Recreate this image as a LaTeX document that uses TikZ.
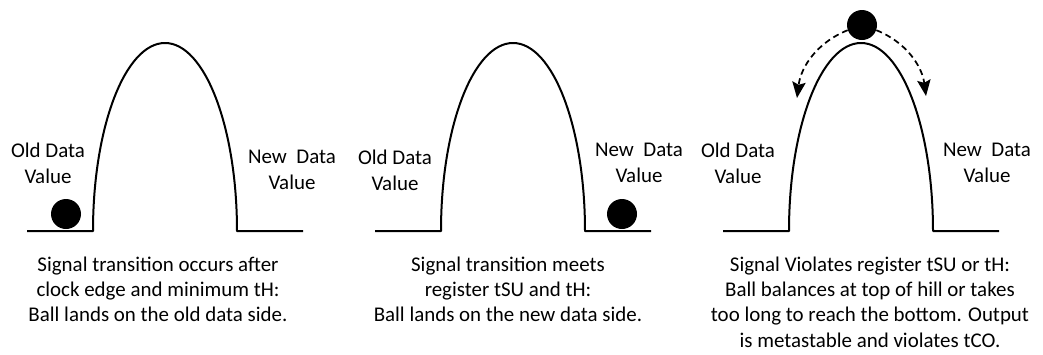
\documentclass[tikz,border=0pt]{standalone}
\usepackage{fontspec}
\setmainfont{Carlito}
\usetikzlibrary{arrows.meta}

\tikzset{
  hill/.style={line width=1.5pt,line join=round},
  ball/.style={circle,fill=black,inner sep=0pt,minimum size=22.5pt},
  side/.style={align=center,inner sep=0pt,font=\fontsize{15.7}{19.5}\selectfont},
  note/.style={align=center,inner sep=0pt,anchor=north,font=\fontsize{15.7}{18.8}\selectfont},
  swing/.style={line width=1.3pt,dash pattern=on 4.5pt off 3pt,-{Stealth[length=12pt,width=10pt,inset=2pt]}}
}

\begin{document}
\begin{tikzpicture}[x=0.75pt,y=-0.75pt]
  % Keep the frame of the original artwork.
  \useasboundingbox (0,0) rectangle (1043,354);

  % Three hills, each with a flat floor on both sides.
  \foreach \dx/\n in {0/1,348/2,696/3}{
    \coordinate (floorl\n) at (27+\dx,231);
    \coordinate (footl\n) at (93+\dx,231);
    \coordinate (footr\n) at (237+\dx,231);
    \coordinate (floorr\n) at (303+\dx,231);
    \draw[hill] (floorl\n) -- (footl\n)
      arc[start angle=180,end angle=360,x radius=72,y radius=188]
      -- (floorr\n);
  }

  % Side labels.
  \node[side] (old1) at (48,163) {Old Data\\Value};
  \node[side] (new1) at (292,170) {New\ \ Data\\Value};
  \node[side] (old2) at (395,170) {Old Data\\Value};
  \node[side] (new2) at (639,163) {New\ \ Data\\Value};
  \node[side] (old3) at (738,163) {Old Data\\Value};
  \node[side] (new3) at (987,163) {New\ \ Data\\Value};

  % Balls.
  \node[ball] (ball1) at (66,214) {};
  \node[ball] (ball2) at (622,214) {};
  \node[ball] (ball3) at (862,25) {};

  % Ball may roll either way from the top.
  \coordinate (rolll) at (797,98);
  \coordinate (rollr) at (926,96);
  \draw[swing] (ball3.200) .. controls (818,42) and (801,66) .. (rolll);
  \draw[swing] (ball3.-20) .. controls (906,42) and (922,66) .. (rollr);

  % Captions.
  \node[note] (cap1) at (158,257) {Signal transition occurs after\\clock edge and minimum tH:\\Ball lands on the old data side.};
  \node[note] (cap2) at (508,257) {Signal transition meets\\register tSU and tH:\\Ball lands on the new data side.};
  \node[note] (cap3) at (870,257) {Signal Violates register tSU or tH:\\Ball balances at top of hill or takes\\too long to reach the bottom. Output\\is metastable and violates tCO.};
\end{tikzpicture}
\end{document}
